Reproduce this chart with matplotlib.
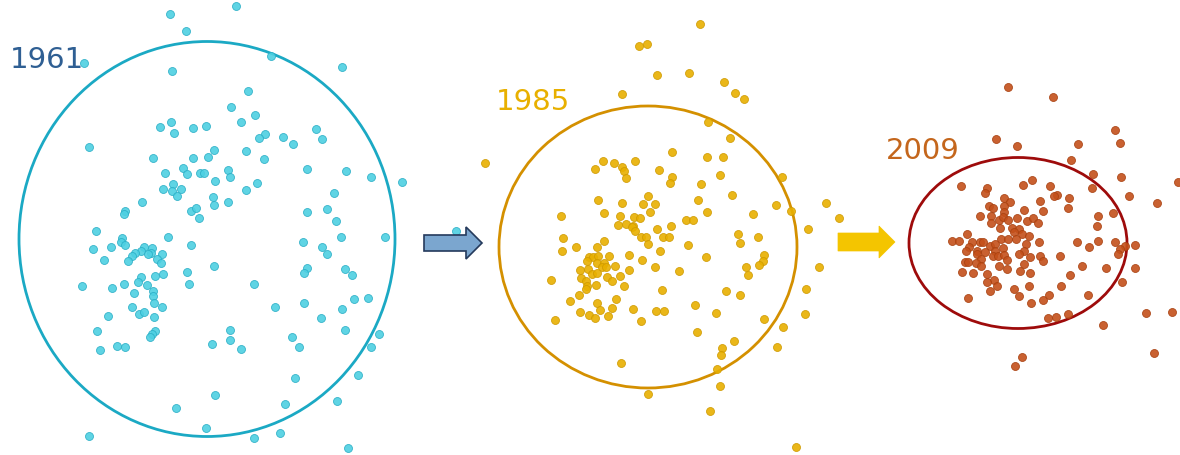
import matplotlib
matplotlib.use("Agg")
import matplotlib.pyplot as plt
from matplotlib.patches import Ellipse, FancyArrow

# point positions (pixel space, y down)
pts_1961 = [(170,15),(186,32),(84,64),(172,72),(89,148),(171,123),(160,128),(174,134),(193,129),(206,127),
            (153,159),(193,159),(208,158),(165,174),(183,169),(187,175),(200,174),(204,174),(173,185),(163,190),
            (172,192),(181,190),(177,197),(142,203),(125,212),(124,215),(191,212),(196,209),(199,219),(96,232),
            (236,7),(271,57),(342,68),(248,92),(231,108),(255,116),(241,123),(265,135),(259,139),(283,138),
            (293,145),(316,130),(322,140),(214,151),(246,152),(264,160),(228,171),(230,178),(215,182),(257,184),
            (246,191),(307,170),(346,172),(371,178),(402,183),(334,194),(213,198),(214,206),(228,203),(307,213),
            (327,210),(336,222),(168,238),(191,246),(122,239),(93,250),(111,248),(121,243),(125,246),(144,248),
            (141,252),(152,249),(151,254),(148,255),(135,254),(132,257),(128,262),(104,261),(162,255),(157,260),
            (161,264),(187,273),(189,285),(163,275),(155,277),(141,278),(138,283),(147,286),(124,285),(112,289),
            (82,287),(134,294),(153,292),(153,297),(154,304),(162,308),(132,308),(139,315),(144,313),(154,318),
            (108,317),(97,332),(155,332),(152,335),(150,338),(117,347),(125,348),(100,351),(212,345),(176,409),
            (206,429),(89,437),(303,243),(341,238),(385,238),(322,248),(327,255),(214,267),(307,269),(304,274),
            (345,270),(352,276),(254,285),(275,308),(304,304),(354,300),(368,299),(342,310),(321,319),(230,331),
            (230,341),(241,350),(292,338),(299,348),(345,331),(379,335),(371,348),(295,379),(358,376),(215,396),
            (285,405),(337,402),(254,439),(280,434),(348,449),(456,232)]

pts_1985 = [(639,47),(647,45),(622,95),(485,164),(603,162),(614,164),(595,170),(622,168),(624,172),(626,179),
            (635,162),(598,201),(622,204),(643,205),(648,197),(604,214),(620,217),(561,217),(634,218),(640,219),
            (650,213),(618,226),(626,225),(633,227),(700,25),(657,76),(689,74),(724,83),(735,94),(744,100),
            (708,123),(730,139),(672,153),(707,158),(723,158),(659,171),(672,178),(670,184),(720,176),(701,185),
            (782,178),(655,205),(698,201),(732,196),(707,213),(753,215),(776,206),(791,212),(826,204),(839,219),
            (686,221),(693,221),(671,227),(657,230),(808,230),(632,228),(635,232),(563,239),(562,252),(576,248),
            (604,242),(597,248),(641,238),(646,238),(648,245),(589,258),(593,258),(598,257),(609,257),(587,262),
            (597,264),(604,264),(602,268),(606,268),(615,267),(629,256),(642,261),(629,271),(580,271),(588,270),
            (592,275),(597,274),(581,279),(586,282),(607,278),(612,282),(620,277),(551,281),(587,287),(586,290),
            (596,286),(624,287),(579,296),(570,302),(597,304),(616,300),(600,311),(612,309),(580,313),(589,316),
            (595,319),(608,317),(633,310),(641,322),(555,321),(621,364),(648,395),(663,238),(669,238),(660,252),
            (655,268),(679,272),(688,246),(706,258),(738,235),(740,244),(758,238),(764,256),(763,262),(759,266),
            (746,268),(748,276),(819,268),(806,290),(805,315),(783,328),(777,348),(662,291),(726,292),(740,296),
            (695,306),(716,314),(656,312),(664,312),(764,320),(697,333),(734,342),(722,349),(721,356),(717,370),
            (720,387),(710,412),(796,448)]

pts_2009 = [(1008,88),(1053,98),(996,140),(1017,147),(1115,131),(1120,144),(1078,145),(1071,161),(1093,175),
            (1121,178),(1092,189),(1129,197),(1157,204),(961,187),(987,189),(985,194),(1023,186),(1032,181),
            (1050,187),(1057,196),(1054,197),(1069,199),(1068,209),(1040,202),(1004,199),(1010,203),(989,207),
            (993,209),(1004,207),(1004,213),(1024,211),(1043,212),(980,217),(991,217),(999,221),(1003,218),
            (1008,221),(1017,219),(1027,222),(1033,219),(1038,224),(991,224),(1000,229),(1012,229),(1019,230),
            (1014,233),(1022,235),(1029,237),(967,235),(1001,240),(1008,240),(1016,240),(1026,245),(1039,243),
            (952,242),(959,242),(1077,243),(1089,248),(1098,242),(1115,243),(1125,247),(1135,246),(1097,227),
            (1113,214),(1098,217),(972,243),(969,248),(980,243),(983,243),(990,247),(995,245),(966,252),(977,252),
            (985,253),(995,252),(1003,249),(1024,252),(1060,257),(1040,257),(1120,250),(1118,255),(977,255),
            (981,260),(993,257),(998,257),(1004,256),(1007,261),(1019,255),(1030,258),(1043,262),(965,263),
            (968,263),(976,264),(981,267),(999,267),(1007,270),(1024,265),(1020,272),(1030,274),(962,273),
            (973,274),(987,275),(994,281),(987,283),(997,287),(1029,287),(1014,290),(1019,297),(990,292),
            (968,299),(1031,304),(1043,301),(1049,296),(1061,287),(1070,276),(1082,267),(1106,269),(1135,269),
            (1122,283),(1088,296),(1048,319),(1056,318),(1068,315),(1103,326),(1146,314),(1172,313),(1154,354),
            (1022,358),(1015,367),(1178,183)]

# enclosing ellipses: centre x, centre y, width, height
ell_1961 = (207, 240, 376, 395)
ell_1985 = (648, 248, 298, 282)
ell_2009 = (1018, 244, 218, 171)

years = ["1961", "1985", "2009"]
year_pos = [(10, 60), (496, 102), (886, 151)]

groups = [
    (pts_1961, ell_1961, "#4dd0e2", "#2aaec6", "#1ba9c4", "#2f5f93"),
    (pts_1985, ell_1985, "#e8b000", "#cf9a00", "#d49000", "#e8b000"),
    (pts_2009, ell_2009, "#c4501a", "#a8400f", "#9e0b0b", "#c4661c"),
]

fig = plt.figure(figsize=(11.8, 4.56), dpi=100)
ax = fig.add_axes([0, 0, 1, 1])
ax.set_xlim(0, 1180)
ax.set_ylim(456, 0)
ax.axis("off")

for (pts, ell, fc, ec, lc, tc), yr, (tx, ty) in zip(groups, years, year_pos):
    xs = [p[0] for p in pts]
    ys = [p[1] for p in pts]
    cx, cy, w, h = ell
    ax.add_patch(Ellipse((cx, cy), w, h, fill=False, edgecolor=lc, linewidth=2, zorder=1))
    ax.scatter(xs, ys, s=33, color=fc, edgecolors=ec, linewidths=0.6, alpha=0.9, zorder=2)
    ax.text(tx, ty, yr, color=tc, fontsize=21, va="center", ha="left", family="DejaVu Sans")

# arrows between the panels
ax.add_patch(FancyArrow(424, 244, 58, 0, width=16, head_width=32, head_length=16,
                        length_includes_head=True, facecolor="#7ba6cf", edgecolor="#253a5c",
                        linewidth=1.2, zorder=3))
ax.add_patch(FancyArrow(838, 243, 57, 0, width=18, head_width=32, head_length=16,
                        length_includes_head=True, facecolor="#f4c500", edgecolor="#f4c500",
                        linewidth=0.5, zorder=3))

fig.savefig("out.png", dpi=100)
